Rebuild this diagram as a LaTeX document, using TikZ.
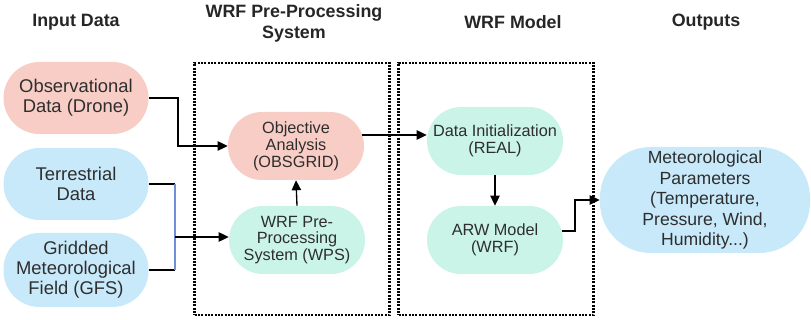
\documentclass[tikz,border=0pt]{standalone}
\usepackage{fontspec}
\setmainfont{Liberation Sans}
\usetikzlibrary{arrows.meta}
\definecolor{pinkf}{HTML}{F7CDC6}
\definecolor{bluef}{HTML}{C8E9FA}
\definecolor{mintf}{HTML}{CBF4E9}
\definecolor{txt}{HTML}{2E2E2E}
\definecolor{joinblue}{HTML}{6F8FD6}
\begin{document}
\begin{tikzpicture}[x=0.75pt,y=-0.75pt,
  title/.style={align=center, text=black!85, font=\fontsize{13.4}{15.75}\selectfont\bfseries, inner sep=0pt},
  bignode/.style={align=center, text=txt, inner sep=0pt, minimum width=108.75pt, minimum height=54pt, rounded corners=27pt, font=\fontsize{13.8}{15}\selectfont},
  smallnode/.style={align=center, text=txt, inner sep=0pt, minimum width=102pt, minimum height=51pt, rounded corners=25.5pt, font=\fontsize{12.2}{12.6}\selectfont},
  outnode/.style={align=center, text=txt, inner sep=0pt, minimum width=157.5pt, minimum height=79.5pt, rounded corners=38pt, font=\fontsize{13.2}{15.4}\selectfont},
  dotbox/.style={draw=black, line width=1.6pt, dash pattern=on 1.5pt off 1.0pt, minimum width=146.25pt, minimum height=189pt, inner sep=0pt},
  arr/.style={draw=black, line width=1pt, -{Triangle[length=7.5pt,width=7pt]}},
  ln/.style={draw=black, line width=1pt}]
\useasboundingbox (0,0) rectangle (811,320);

% titles
\node[title] (t1) at (76,22) {Input Data};
\node[title] (t2) at (294,23) {WRF Pre-Processing\\System};
\node[title] (t3) at (513,22) {WRF Model};
\node[title] (t4) at (706,22) {Outputs};

% dotted boxes
\node[dotbox] (box1) at (292,189) {};
\node[dotbox] (box2) at (496,189) {};

% input nodes
\node[bignode, fill=pinkf] (obs) at (76,98) {Observational\\Data (Drone)};
\node[bignode, fill=bluef] (ter) at (76,184) {Terrestrial\\Data};
\node[bignode, fill=bluef, minimum height=55.5pt] (grid) at (76,270) {Gridded\\Meteorological\\Field (GFS)};

% pre-processing
\node[smallnode, fill=pinkf] (obj) at (296,146) {Objective\\Analysis\\(OBSGRID)};
\node[smallnode, fill=mintf] (wps) at (297,240) {WRF Pre-\\Processing\\System (WPS)};

% model
\node[smallnode, fill=mintf] (init) at (495,141) {Data Initialization\\(REAL)};
\node[smallnode, fill=mintf] (arw) at (495,240) {ARW Model\\(WRF)};

% output
\node[outnode, fill=bluef] (met) at (705,200) {Meteorological\\Parameters\\(Temperature,\\Pressure, Wind,\\Humidity...)};

% connectors
\coordinate (c1) at (178,98);
\draw[arr] (obs.east) -- (c1) |- (obj.west);

\coordinate (jt) at (175,184);
\coordinate (jg) at (175,270);
\coordinate (jm) at (175,237);
\draw[ln] (ter.east) -- (jt);
\draw[ln] (grid.east) -- (jg);
\draw[draw=joinblue, line width=1pt] (jt) -- (jg);
\draw[arr] (jm) -- (wps.west |- jm);

\draw[arr] (wps.north) -- (obj.south);

\coordinate (o1) at (362,135);
\draw[arr] (o1) -- (init.west |- o1);

\draw[arr] (init.south) -- (arw.north);

\coordinate (a1) at (562,231);
\coordinate (a2) at (575,231);
\draw[arr] (a1) -- (a2) |- (met.west);
\end{tikzpicture}
\end{document}
